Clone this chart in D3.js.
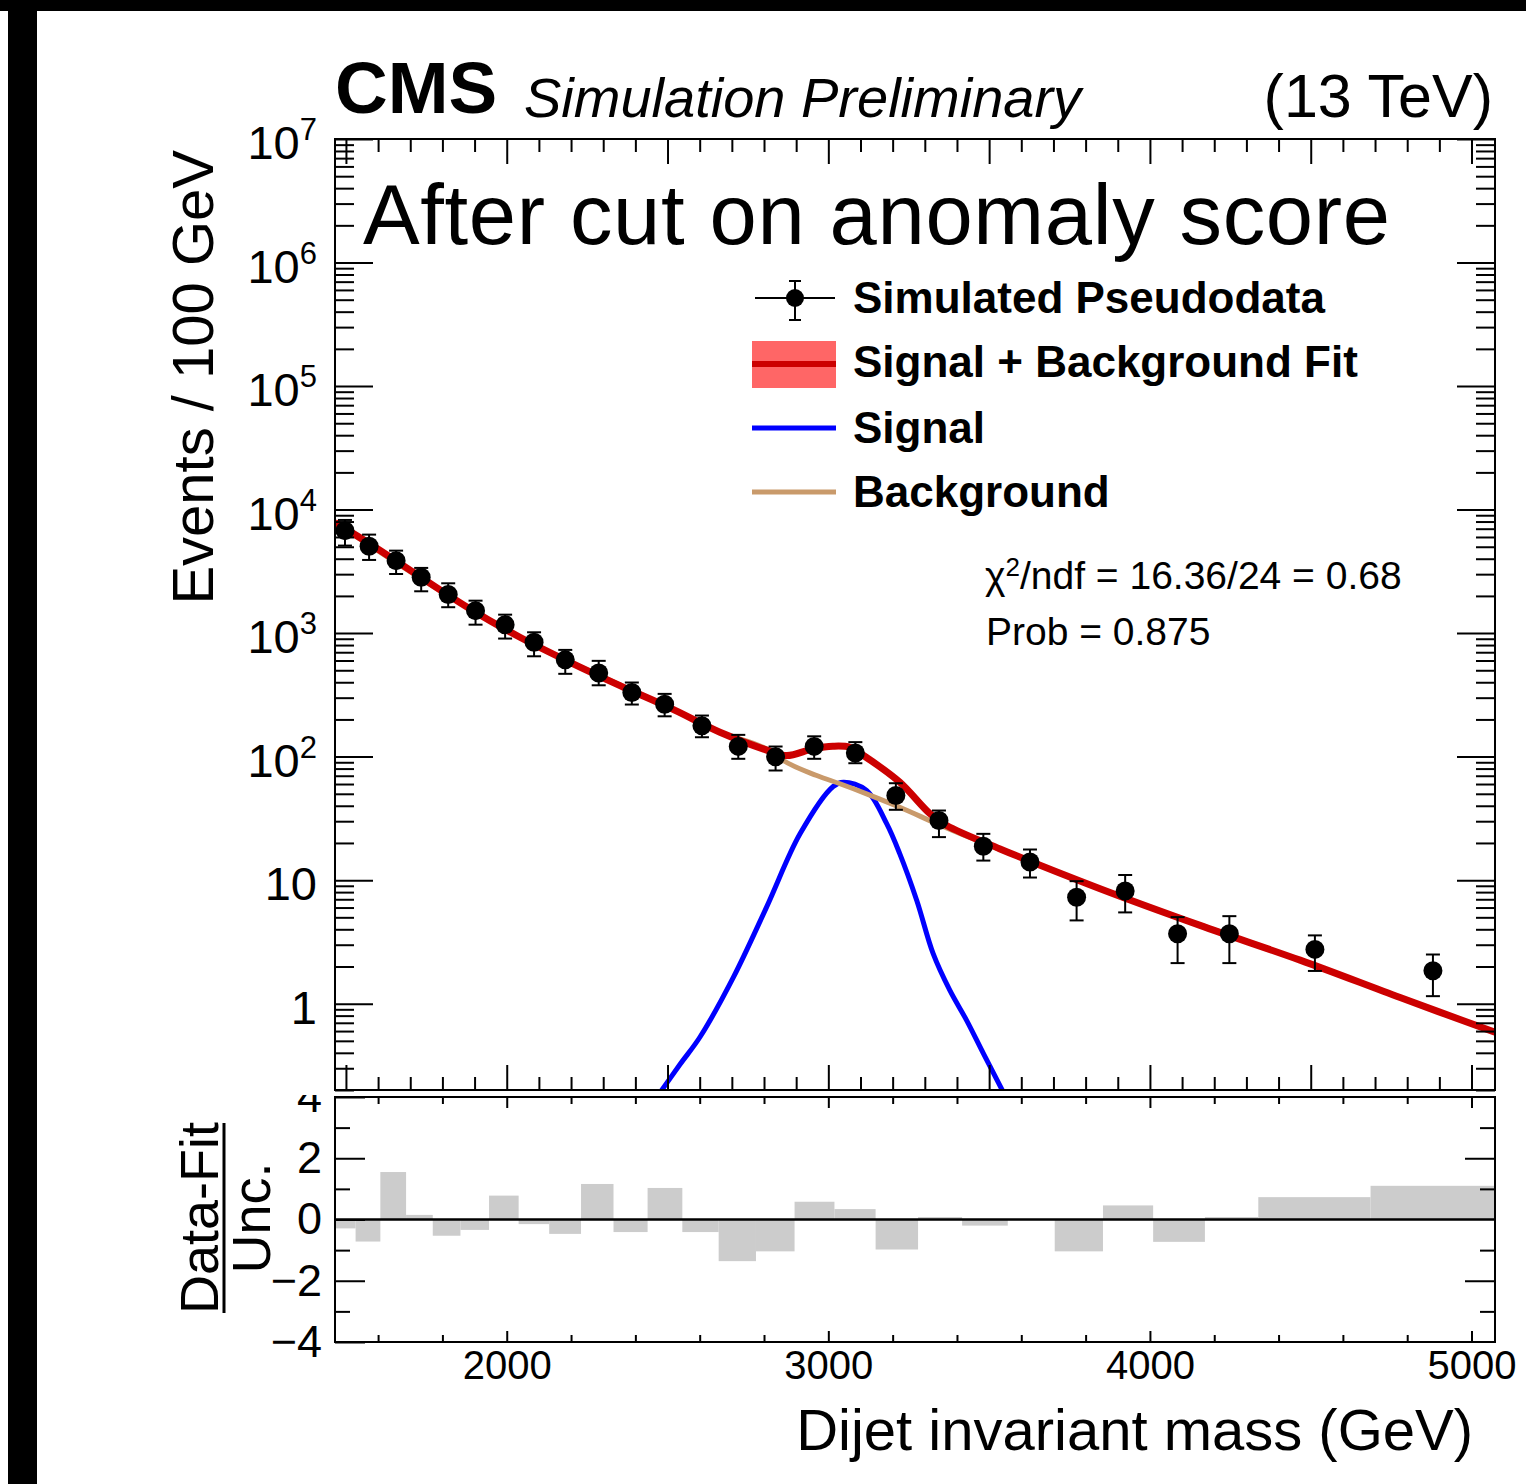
<!DOCTYPE html>
<html>
<head>
<meta charset="utf-8">
<script src="https://cdn.jsdelivr.net/npm/d3@7"></script>
<style>
body { margin: 0; background: #fff; }
svg { display: block; font-family: "Liberation Sans", Arial, Helvetica, sans-serif; }
</style>
</head>
<body>
<div id="chart"></div>
<script>
/* global d3 */

// pseudodata points (mass in GeV, events / 100 GeV, error band bounds)
var dataMass = [1497, 1572, 1656, 1734, 1818, 1903, 1995, 2085, 2182, 2286, 2389, 2491, 2607, 2720, 2836,
    2956, 3084, 3210, 3344, 3482, 3627, 3772, 3923, 4086, 4247, 4513, 4880];
var dataEvents = [6750, 5040, 3860, 2830, 2050, 1520, 1170, 843, 607, 476, 330, 265, 178, 121, 99.6,
    121, 107, 48.4, 30.4, 18.8, 14.0, 7.28, 8.18, 3.68, 3.68, 2.75, 1.85];
var dataHigh = [8240, 6270, 4650, 3370, 2530, 1830, 1410, 1015, 731, 596, 398, 322, 215, 150, 120.7,
    146, 131, 60.9, 36.6, 23.7, 17.7, 9.81, 11.0, 5.02, 5.11, 3.57, 2.50];
var dataLow = [5110, 3910, 3010, 2180, 1620, 1170, 903, 649, 468, 378, 264, 212, 143.5, 96, 77.2,
    96, 88.4, 37.1, 22.3, 14.4, 10.5, 4.72, 5.48, 2.13, 2.13, 1.84, 1.15];

// signal + background fit
var fitMass = [1466, 1575, 1730, 1886, 2041, 2197, 2352, 2508, 2663, 2819, 2871, 2953, 3014, 3067, 3114,
    3222, 3316, 3368, 3534, 3845, 4156, 4467, 4778, 5073];
var fitEvents = [7840, 5270, 2865, 1570, 925, 580, 376, 248, 157.5, 110.6, 102, 115.6, 121.4, 119, 100.2,
    62.1, 34.5, 27.7, 17.9, 8.52, 4.30, 2.25, 1.12, 0.586];

// background only
var bkgMass = [1466, 2041, 2508, 2663, 2819, 2860, 2964, 3036, 3119, 3222, 3326, 3368, 3534, 3845, 4467, 5073];
var bkgEvents = [7840, 925, 248, 157.5, 110.6, 93, 70.3, 60.3, 50.0, 38.9, 29.5, 26.4, 17.7, 8.52, 2.25, 0.586];

// signal only
var sigMass = [2470, 2539, 2601, 2705, 2808, 2912, 3015, 3047, 3119, 3181, 3222, 3275, 3326, 3378, 3430, 3482, 3545];
var sigEvents = [0.18, 0.323, 0.537, 1.64, 6.05, 23.7, 57.3, 62.1, 53.2, 28.8, 16.4, 6.85, 2.54, 1.28, 0.733, 0.396, 0.19];

// lower panel: (data - fit) / unc. per bin
var binEdges = [1455, 1530, 1607, 1687, 1770, 1856, 1945, 2037, 2132, 2231, 2332, 2438, 2546, 2659, 2775,
    2895, 3019, 3147, 3279, 3416, 3558, 3704, 3854, 4010, 4171, 4337, 4686, 5073];
var pulls = [-0.29, -0.72, 1.55, 0.15, -0.53, -0.34, 0.78, -0.15, -0.47, 1.16, -0.41, 1.03, -0.41, -1.36,
    -1.04, 0.58, 0.34, -0.98, 0.08, -0.2, 0.0, -1.04, 0.46, -0.73, 0.08, 0.73, 1.10];

var xLabels = [2000, 3000, 4000, 5000];
var legendLabels = ["Simulated Pseudodata", "Signal + Background Fit", "Signal", "Background"];

var w = 1526,
    h = 1484;
var left = 335, right = 1495;
var mainTop = 139, mainBottom = 1090;
var ratioTop = 1097, ratioBottom = 1342;

var red = "#cc0000", band = "#ff6666", blue = "#0000ff", tan = "#c99a6b";

var x = d3.scaleLinear().domain([1466, 5073]).range([left, right]);
var y = d3.scaleLog().domain([0.2, 1e7]).range([mainBottom, mainTop]);
var yr = d3.scaleLinear().domain([-4, 4]).range([ratioBottom, ratioTop]);

var svg = d3.select("#chart").append("svg")
    .attr("width", w)
    .attr("height", h)
    .attr("viewBox", "0 0 " + w + " " + h);

svg.append("rect").attr("width", w).attr("height", h).attr("fill", "#fff");

var defs = svg.append("defs");
defs.append("clipPath").attr("id", "clipMain")
    .append("rect")
    .attr("x", left).attr("y", mainTop)
    .attr("width", right - left).attr("height", mainBottom - mainTop);
defs.append("clipPath").attr("id", "clipRatio")
    .append("rect")
    .attr("x", left).attr("y", ratioTop)
    .attr("width", right - left).attr("height", ratioBottom - ratioTop);

function styleAxis(g) {
    g.select(".domain").remove();
    g.selectAll(".tick line").attr("stroke", "#000").attr("stroke-width", 2);
}

// ---------- ratio panel ----------
var ratio = svg.append("g");

var bins = pulls.map(function(p, i) {
    return { x0: binEdges[i], x1: binEdges[i + 1], v: p };
});

ratio.append("g")
    .attr("clip-path", "url(#clipRatio)")
    .selectAll("rect")
    .data(bins)
    .enter().append("rect")
    .attr("x", function(d) { return x(d.x0); })
    .attr("width", function(d) { return x(d.x1) - x(d.x0); })
    .attr("y", function(d) { return yr(Math.max(d.v, 0)); })
    .attr("height", function(d) { return Math.abs(yr(d.v) - yr(0)); })
    .attr("fill", "#cccccc");

ratio.append("line")
    .attr("x1", left).attr("x2", right)
    .attr("y1", yr(0)).attr("y2", yr(0))
    .attr("stroke", "#000").attr("stroke-width", 2.5);

var rMinorX = d3.range(1600, 5001, 200).filter(function(v) { return v % 1000 !== 0; });

ratio.append("g").attr("transform", "translate(0," + ratioBottom + ")")
    .call(d3.axisBottom(x).tickValues(rMinorX).tickSize(-7).tickFormat(""))
    .call(styleAxis);
ratio.append("g").attr("transform", "translate(0," + ratioTop + ")")
    .call(d3.axisTop(x).tickValues(rMinorX).tickSize(-7).tickFormat(""))
    .call(styleAxis);
ratio.append("g").attr("transform", "translate(0," + ratioTop + ")")
    .call(d3.axisTop(x).tickValues(xLabels).tickSize(-11).tickFormat(""))
    .call(styleAxis);

var xLab = ratio.append("g").attr("transform", "translate(0," + ratioBottom + ")")
    .call(d3.axisBottom(x).tickValues(xLabels).tickSize(-11).tickPadding(9).tickFormat(d3.format("d")))
    .call(styleAxis);
xLab.selectAll("text").attr("font-size", 40).attr("fill", "#000")
    .attr("font-family", "Liberation Sans, Arial, sans-serif");

ratio.append("g").attr("transform", "translate(" + left + ",0)")
    .call(d3.axisLeft(yr).tickValues([-3, -1, 1, 3]).tickSize(-15).tickFormat(""))
    .call(styleAxis);
ratio.append("g").attr("transform", "translate(" + right + ",0)")
    .call(d3.axisRight(yr).tickValues([-3, -1, 1, 3]).tickSize(-15).tickFormat(""))
    .call(styleAxis);
ratio.append("g").attr("transform", "translate(" + right + ",0)")
    .call(d3.axisRight(yr).tickValues([-2, 2]).tickSize(-30).tickFormat(""))
    .call(styleAxis);

var yLab = ratio.append("g").attr("transform", "translate(" + left + ",0)")
    .call(d3.axisLeft(yr).tickValues([-4, -2, 0, 2, 4]).tickSize(-30).tickPadding(13))
    .call(styleAxis);
yLab.selectAll("text").attr("font-size", 45).attr("fill", "#000")
    .attr("font-family", "Liberation Sans, Arial, sans-serif");

ratio.append("rect")
    .attr("x", left).attr("y", ratioTop)
    .attr("width", right - left).attr("height", ratioBottom - ratioTop)
    .attr("fill", "none").attr("stroke", "#000").attr("stroke-width", 2);

// fraction title
var frac = ratio.append("g").attr("font-size", 54);
frac.append("text")
    .attr("transform", "translate(218,1218) rotate(-90)")
    .attr("text-anchor", "middle")
    .text("Data-Fit");
frac.append("line")
    .attr("x1", 224).attr("x2", 224)
    .attr("y1", 1123).attr("y2", 1313)
    .attr("stroke", "#000").attr("stroke-width", 3);
frac.append("text")
    .attr("transform", "translate(270,1218) rotate(-90)")
    .attr("text-anchor", "middle")
    .text("Unc.");

svg.append("text")
    .attr("x", 1473).attr("y", 1450)
    .attr("text-anchor", "end")
    .attr("font-size", 58)
    .text("Dijet invariant mass (GeV)");

// upper pad covers the top of the ratio labels
svg.append("rect")
    .attr("x", 0).attr("y", 0)
    .attr("width", w).attr("height", 1095)
    .attr("fill", "#fff");

// ---------- main panel ----------
var main = svg.append("g");
var plot = main.append("g").attr("clip-path", "url(#clipMain)");

function curve(xs, ys, shape) {
    return d3.line()
        .x(function(d, i) { return x(xs[i]); })
        .y(function(d, i) { return y(ys[i]); })
        .curve(shape)(xs);
}

plot.append("path")
    .attr("d", curve(sigMass, sigEvents, d3.curveCatmullRom.alpha(0.5)))
    .attr("fill", "none").attr("stroke", blue).attr("stroke-width", 5);

plot.append("path")
    .attr("d", curve(bkgMass, bkgEvents, d3.curveMonotoneX))
    .attr("fill", "none").attr("stroke", tan).attr("stroke-width", 5);

plot.append("path")
    .attr("d", curve(fitMass, fitEvents, d3.curveCatmullRom.alpha(0.5)))
    .attr("fill", "none").attr("stroke", red).attr("stroke-width", 7);

var points = dataMass.map(function(m, i) {
    return { m: m, v: dataEvents[i], lo: dataLow[i], hi: dataHigh[i] };
});

var pts = plot.selectAll(".pt")
    .data(points)
    .enter().append("g")
    .attr("class", "pt");

pts.append("line")
    .attr("x1", function(d) { return x(d.m); })
    .attr("x2", function(d) { return x(d.m); })
    .attr("y1", function(d) { return y(d.lo); })
    .attr("y2", function(d) { return y(d.hi); })
    .attr("stroke", "#000").attr("stroke-width", 2);
pts.append("line")
    .attr("x1", function(d) { return x(d.m) - 7; })
    .attr("x2", function(d) { return x(d.m) + 7; })
    .attr("y1", function(d) { return y(d.lo); })
    .attr("y2", function(d) { return y(d.lo); })
    .attr("stroke", "#000").attr("stroke-width", 2);
pts.append("line")
    .attr("x1", function(d) { return x(d.m) - 7; })
    .attr("x2", function(d) { return x(d.m) + 7; })
    .attr("y1", function(d) { return y(d.hi); })
    .attr("y2", function(d) { return y(d.hi); })
    .attr("stroke", "#000").attr("stroke-width", 2);
pts.append("circle")
    .attr("cx", function(d) { return x(d.m); })
    .attr("cy", function(d) { return y(d.v); })
    .attr("r", 9.5)
    .attr("fill", "#000");

// ticks
var yMinor = y.ticks().filter(function(v) { return Math.abs(Math.log10(v) - Math.round(Math.log10(v))) > 1e-6; });
var yMajor = d3.range(0, 8).map(function(k) { return Math.pow(10, k); });
var xMinor = d3.range(1500, 5001, 100).filter(function(v) { return v % 500 !== 0; });
var xMajor = d3.range(1500, 5001, 500);

main.append("g").attr("transform", "translate(" + left + ",0)")
    .call(d3.axisLeft(y).tickValues(yMinor).tickSize(-19).tickFormat(""))
    .call(styleAxis);
main.append("g").attr("transform", "translate(" + left + ",0)")
    .call(d3.axisLeft(y).tickValues(yMajor).tickSize(-38).tickFormat(""))
    .call(styleAxis);
main.append("g").attr("transform", "translate(" + right + ",0)")
    .call(d3.axisRight(y).tickValues(yMinor).tickSize(-19).tickFormat(""))
    .call(styleAxis);
main.append("g").attr("transform", "translate(" + right + ",0)")
    .call(d3.axisRight(y).tickValues(yMajor).tickSize(-38).tickFormat(""))
    .call(styleAxis);

main.append("g").attr("transform", "translate(0," + mainBottom + ")")
    .call(d3.axisBottom(x).tickValues(xMinor).tickSize(-13).tickFormat(""))
    .call(styleAxis);
main.append("g").attr("transform", "translate(0," + mainBottom + ")")
    .call(d3.axisBottom(x).tickValues(xMajor).tickSize(-25).tickFormat(""))
    .call(styleAxis);
main.append("g").attr("transform", "translate(0," + mainTop + ")")
    .call(d3.axisTop(x).tickValues(xMinor).tickSize(-13).tickFormat(""))
    .call(styleAxis);
main.append("g").attr("transform", "translate(0," + mainTop + ")")
    .call(d3.axisTop(x).tickValues(xMajor).tickSize(-25).tickFormat(""))
    .call(styleAxis);

main.append("rect")
    .attr("x", left).attr("y", mainTop)
    .attr("width", right - left).attr("height", mainBottom - mainTop)
    .attr("fill", "none").attr("stroke", "#000").attr("stroke-width", 2);

// y tick labels 1, 10, 10^2 ...
var yl = main.selectAll(".ylab")
    .data(yMajor)
    .enter().append("text")
    .attr("class", "ylab")
    .attr("x", 317)
    .attr("y", function(d) { return y(d) + 20; })
    .attr("text-anchor", "end")
    .attr("font-size", 47);
yl.each(function(d) {
    var k = Math.round(Math.log10(d));
    var t = d3.select(this);
    if (k < 2) {
        t.text(String(d));
    } else {
        t.append("tspan").text("10");
        t.append("tspan").attr("dy", -19).attr("font-size", 31).text(String(k));
    }
});

svg.append("text")
    .attr("transform", "translate(213,150) rotate(-90)")
    .attr("text-anchor", "end")
    .attr("font-size", 58)
    .text("Events / 100 GeV");

// ---------- labels ----------
svg.append("text")
    .attr("x", 335).attr("y", 113)
    .attr("font-size", 73).attr("font-weight", "bold")
    .text("CMS");
svg.append("text")
    .attr("x", 524).attr("y", 117)
    .attr("font-size", 56).attr("font-style", "italic")
    .text("Simulation Preliminary");
svg.append("text")
    .attr("x", 1493).attr("y", 117)
    .attr("text-anchor", "end")
    .attr("font-size", 61)
    .text("(13 TeV)");

svg.append("text")
    .attr("x", 363).attr("y", 244)
    .attr("font-size", 85)
    .attr("textLength", 1027)
    .attr("lengthAdjust", "spacing")
    .text("After cut on anomaly score");

// legend
var legY = [298, 362, 428, 492];
var leg = svg.append("g");

leg.append("line").attr("x1", 755).attr("x2", 835).attr("y1", legY[0]).attr("y2", legY[0])
    .attr("stroke", "#000").attr("stroke-width", 2);
leg.append("line").attr("x1", 795).attr("x2", 795).attr("y1", legY[0] - 17).attr("y2", legY[0] + 22)
    .attr("stroke", "#000").attr("stroke-width", 2);
[legY[0] - 17, legY[0] + 22].forEach(function(yy) {
    leg.append("line").attr("x1", 789).attr("x2", 801).attr("y1", yy).attr("y2", yy)
        .attr("stroke", "#000").attr("stroke-width", 2);
});
leg.append("circle").attr("cx", 795).attr("cy", legY[0]).attr("r", 9).attr("fill", "#000");

leg.append("rect").attr("x", 752).attr("y", legY[1] - 21).attr("width", 84).attr("height", 47)
    .attr("fill", band);
leg.append("line").attr("x1", 752).attr("x2", 836).attr("y1", legY[1] + 2).attr("y2", legY[1] + 2)
    .attr("stroke", red).attr("stroke-width", 6);
leg.append("line").attr("x1", 752).attr("x2", 836).attr("y1", legY[2]).attr("y2", legY[2])
    .attr("stroke", blue).attr("stroke-width", 5);
leg.append("line").attr("x1", 752).attr("x2", 836).attr("y1", legY[3]).attr("y2", legY[3])
    .attr("stroke", tan).attr("stroke-width", 5);

leg.selectAll(".legtext")
    .data(legendLabels)
    .enter().append("text")
    .attr("class", "legtext")
    .attr("x", 853)
    .attr("y", function(d, i) { return legY[i] + 15; })
    .attr("font-size", 44)
    .attr("font-weight", "bold")
    .text(function(d) { return d; });

var chi = svg.append("text")
    .attr("x", 985).attr("y", 589)
    .attr("font-size", 39);
chi.append("tspan").text("\u03c7");
chi.append("tspan").attr("dy", -13).attr("font-size", 26).text("2");
chi.append("tspan").attr("dy", 13).text("/ndf = 16.36/24 = 0.68");

svg.append("text")
    .attr("x", 986).attr("y", 645)
    .attr("font-size", 39)
    .text("Prob = 0.875");

// screenshot frame edges
svg.append("rect").attr("x", 0).attr("y", 0).attr("width", w).attr("height", 11).attr("fill", "#000");
svg.append("rect").attr("x", 8).attr("y", 0).attr("width", 29).attr("height", h).attr("fill", "#000");
</script>
</body>
</html>
